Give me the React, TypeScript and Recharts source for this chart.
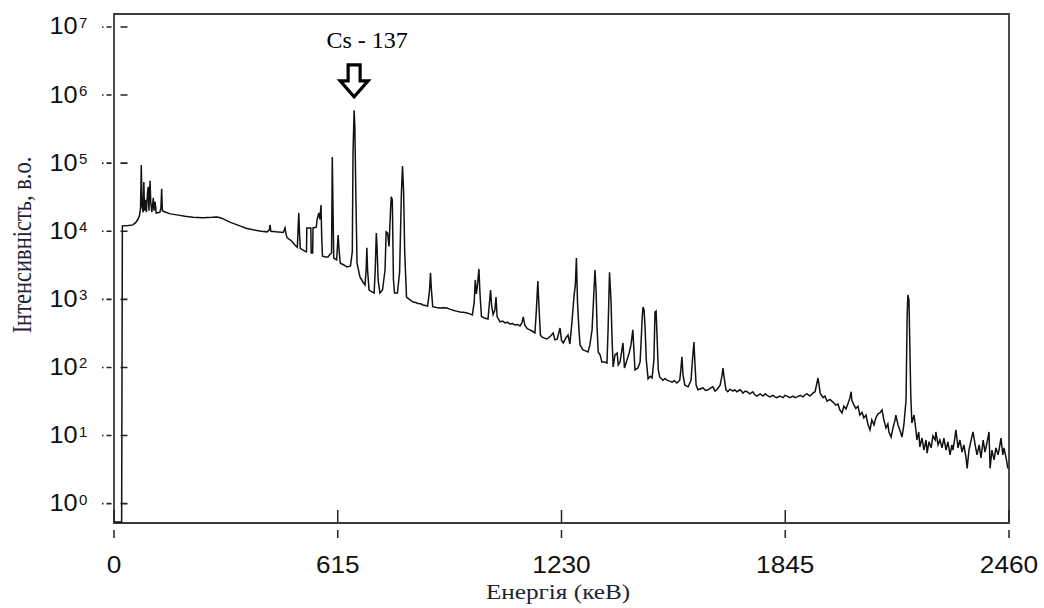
import React from 'react';
import { LineChart, Line, XAxis, YAxis, ReferenceArea, ReferenceDot } from 'recharts';

// spectrum: [energy keV, intensity]
const lowEnergy: [number, number][] = [
    [0, 0.54], [21, 0.54], [23, 1.2e4], [40, 1.22e4], [52, 1.24e4], [60, 1.35e4], [66, 1.5e4],
    [70, 1.7e4], [73, 2.2e4], [75, 9.4e4], [77, 2.4e4], [80, 1.9e4], [82, 5.3e4], [84, 2.0e4],
    [87, 2.9e4], [89, 1.9e4], [92, 3.6e4], [94, 4.5e4], [96, 2.0e4], [99, 5.5e4], [101, 2.7e4],
    [104, 1.9e4], [108, 3.1e4], [110, 2.0e4], [113, 2.7e4], [116, 1.85e4], [126, 1.9e4],
    [129, 2.2e4], [131, 4.2e4], [133, 2.0e4], [140, 1.92e4], [155, 1.8e4], [173, 1.74e4],
    [195, 1.66e4], [217, 1.6e4], [245, 1.58e4], [270, 1.6e4], [283, 1.62e4], [292, 1.58e4],
    [300, 1.52e4],
];

const csRegion: [number, number][] = [
    [320, 1.35e4], [346, 1.2e4], [365, 1.1e4], [382, 1.05e4], [405, 1.0e4], [421, 9.8e3],
    [427, 1.05e4], [429, 1.24e4], [431, 1.0e4], [445, 9.8e3], [465, 9.6e3], [468, 1.05e4],
    [470, 1.12e4], [473, 9.0e3], [476, 8.0e3], [484, 7.5e3], [490, 7.0e3], [497, 6.3e3],
    [504, 5.8e3], [506, 1.1e4], [508, 1.86e4], [510, 9.0e3], [512, 5.6e3], [520, 5.3e3],
    [527, 5.0e3], [529, 5.0e3], [530, 1.12e4], [541, 1.12e4], [542, 4.8e3], [546, 4.8e3],
    [547, 1.12e4], [556, 1.15e4], [558, 1.47e4], [563, 1.86e4], [566, 1.5e4], [569, 2.43e4],
    [571, 8.0e3], [573, 4.3e3], [582, 4.2e3], [588, 4.2e3], [594, 4.6e3], [598, 4.8e3],
    [600, 1.23e5], [602, 2.06e4], [604, 4.05e3], [612, 3.8e3], [616, 8.8e3], [619, 5.0e3],
    [622, 3.4e3], [632, 3.2e3], [640, 3.0e3], [650, 3.1e3], [655, 5.0e3], [657, 1.46e5],
    [660, 6.0e5], [662, 3.4e5], [665, 2.9e4], [668, 3.4e3], [676, 2.13e3], [684, 1.8e3],
    [690, 1.63e3], [693, 2.7e3], [695, 5.7e3], [697, 2.7e3], [701, 1.37e3],
];

const midEnergy: [number, number][] = [
    [708, 1.3e3], [715, 1.24e3], [718, 2.7e3], [721, 9.4e3], [723, 5.9e3], [726, 1.93e3],
    [731, 1.24e3], [738, 1.37e3], [745, 2.7e3], [748, 9.8e3], [752, 9.4e3], [756, 6.0e3],
    [759, 1.5e4], [762, 3.2e4], [765, 2.9e4], [768, 2.0e3], [771, 1.24e3], [779, 1.24e3],
    [785, 2.5e3], [790, 3.65e4], [793, 9.1e4], [796, 3.8e4], [799, 5.0e3], [804, 1.08e3],
    [812, 1.0e3], [822, 915], [829, 900], [836, 870], [843, 860], [849, 828], [856, 815],
    [862, 800], [867, 1.3e3], [870, 2.45e3], [872, 1.5e3], [876, 780], [886, 760], [896, 748],
    [905, 755], [915, 748], [923, 720], [932, 690], [941, 672], [951, 653], [960, 645],
    [970, 631], [978, 612], [985, 590], [990, 900], [993, 1.93e3], [996, 1.2e3], [999, 1.6e3],
    [1003, 2.8e3], [1006, 1.2e3], [1010, 560],
];

const upperMid: [number, number][] = [
    [1018, 533], [1028, 515], [1032, 900], [1035, 1.37e3], [1038, 800], [1042, 600], [1047, 700],
    [1050, 1.08e3], [1053, 560], [1061, 466], [1068, 480], [1075, 451], [1081, 462], [1088, 435],
    [1095, 440], [1102, 421], [1109, 428], [1116, 407], [1121, 450], [1125, 552], [1129, 420],
    [1136, 372], [1143, 356], [1150, 340], [1157, 321], [1161, 700], [1165, 1.86e3], [1168, 800],
    [1172, 300], [1176, 280], [1183, 270], [1190, 262], [1200, 290], [1207, 321], [1212, 254],
    [1218, 260], [1226, 380], [1230, 250], [1235, 229], [1242, 271], [1248, 300], [1253, 221],
    [1258, 421], [1262, 773], [1265, 1.2e3], [1268, 1.6e3], [1271, 4.05e3], [1274, 900],
    [1278, 356], [1281, 214], [1289, 181], [1296, 175], [1303, 169], [1308, 214], [1314, 356],
    [1318, 980], [1322, 2.7e3], [1325, 1.37e3], [1328, 356], [1331, 169], [1336, 153],
    [1341, 120], [1349, 120], [1355, 116], [1358, 356], [1362, 2.5e3], [1366, 980], [1369, 254],
    [1372, 102], [1377, 153], [1383, 163], [1386, 109], [1391, 120], [1396, 181], [1399, 229],
    [1403, 98], [1410, 129], [1416, 163], [1421, 214], [1426, 356], [1429, 181], [1432, 92],
    [1440, 98], [1446, 120], [1449, 254], [1452, 560], [1454, 773], [1457, 700], [1460, 356],
    [1463, 129], [1468, 68], [1474, 74], [1479, 70], [1484, 129], [1487, 653], [1490, 676],
    [1493, 254], [1496, 92], [1500, 72], [1509, 65], [1515, 69], [1520, 65], [1527, 63],
    [1534, 61], [1540, 64], [1547, 59], [1555, 65], [1558, 92], [1561, 143], [1564, 78],
    [1569, 55], [1578, 52], [1586, 65], [1590, 129], [1594, 237], [1597, 109], [1600, 55],
    [1605, 47],
];

const highEnergy: [number, number][] = [
    [1619, 50], [1626, 46], [1633, 47], [1640, 50], [1646, 52], [1652, 45], [1657, 47],
    [1666, 55], [1671, 75], [1674, 98], [1676, 78], [1682, 47], [1687, 44], [1693, 48],
    [1701, 45], [1706, 47], [1712, 44], [1721, 47], [1729, 42], [1735, 45], [1740, 44],
    [1748, 41], [1756, 44], [1761, 40], [1767, 38], [1776, 41], [1784, 38], [1790, 41],
    [1795, 39], [1803, 37], [1811, 39], [1817, 37], [1822, 36], [1830, 38], [1839, 36],
    [1844, 39], [1850, 38], [1858, 36], [1866, 38], [1872, 36], [1877, 37], [1886, 39],
    [1894, 37], [1900, 40], [1905, 41], [1913, 38], [1921, 42], [1927, 44], [1932, 59],
    [1935, 70], [1938, 55], [1941, 42], [1949, 36], [1954, 38], [1960, 32], [1968, 34],
    [1976, 31], [1984, 28], [1990, 29], [1995, 23.8], [2001, 21.5], [2006, 27], [2012, 24.6],
    [2017, 29], [2023, 36], [2026, 44], [2028, 33], [2034, 28], [2039, 25], [2045, 27],
    [2050, 20], [2056, 22], [2061, 18.2], [2067, 20], [2072, 14.8], [2078, 12.1], [2083, 17],
    [2089, 14.3], [2094, 18.2], [2100, 20.8], [2105, 21.5], [2111, 23.8], [2116, 17],
    [2122, 12.9], [2127, 14.8], [2130, 11.3], [2136, 9.5], [2141, 12.9], [2147, 17],
    [2149, 20], [2155, 14.3], [2160, 12.1], [2166, 9.5], [2171, 14.3], [2177, 33], [2180, 552],
    [2182, 1160], [2185, 980], [2188, 143], [2190, 39], [2193, 15.3], [2199, 20], [2204, 12.1],
    [2207, 8.6], [2212, 11.3], [2215, 6.8], [2221, 9.2], [2226, 6.1], [2232, 8.6], [2235, 5.5],
    [2240, 8.1], [2246, 6.6], [2251, 9.9], [2257, 8.6], [2259, 11.3], [2265, 7.3], [2270, 8.6],
    [2276, 6.6], [2281, 9.2], [2287, 6.1], [2292, 8.1], [2298, 5.2], [2303, 7.3], [2306, 6.1],
    [2311, 9.2], [2314, 12.1], [2320, 6.6], [2325, 8.6], [2331, 5.7], [2336, 7.3], [2342, 4.7],
    [2345, 3.3], [2350, 6.1], [2356, 8.6], [2361, 11.3], [2367, 7.3], [2372, 5.2], [2378, 7.3],
    [2383, 4.7], [2389, 8.6], [2394, 5.7], [2400, 8.1], [2405, 11.3], [2408, 3.3], [2413, 6.1],
    [2419, 4.4], [2424, 6.6], [2430, 5.2], [2435, 7.3], [2438, 9.2], [2443, 5.2], [2446, 6.6],
    [2452, 4.7], [2457, 3.3],
];

const xTicks = [0, 615, 1230, 1845, 2460];
const yTicks = [1, 10, 100, 1e3, 1e4, 1e5, 1e6, 1e7];
const yExponents = ['0', '1', '2', '3', '4', '5', '6', '7'];

const csLabel = 'Cs - 137';
const csEnergy = 660;
const csArrowTip = 8.8e5;

const spectrum = [...lowEnergy, ...csRegion, ...midEnergy, ...upperMid, ...highEnergy].map(([e, c]) => ({ e, c }));

const sans = '"Liberation Sans", Arial, sans-serif';
const serif = '"Liberation Serif", "Times New Roman", serif';

const XTick = (props: any) => {
    const { x, y, payload } = props;
    return (
        <g>
            <line x1={x} x2={x} y1={y - 13} y2={y + 15} stroke='#222' strokeWidth={1.5} strokeDasharray='12 8' />
            <text transform={`translate(${x},${y + 50}) scale(1.14,1)`} textAnchor='middle' fontFamily={sans} fontSize={23} fill='#111'>
                {payload.value}
            </text>
        </g>
    );
};

const YTick = (props: any) => {
    const { x, y, payload, index } = props;
    return (
        <g>
            <line x1={x - 12} x2={x + 14} y1={y} y2={y} stroke='#222' strokeWidth={1.6} strokeDasharray='1.5 3 5 9 7' />
            <text transform={`translate(${x - 36.5},${y + 7.5}) scale(1.1,1)`} textAnchor='end' fontFamily={sans} fontSize={23} fill='#111'>
                10
            </text>
            <text x={x - 35} y={y + 1} fontFamily={sans} fontSize={15} fill='#111'>
                {yExponents[index] ?? String(Math.round(Math.log10(payload.value)))}
            </text>
        </g>
    );
};

const CsMarker = (props: any) => {
    const { cx, cy } = props;
    const pts = [
        [cx - 6, cy - 34], [cx + 6, cy - 34], [cx + 6, cy - 18], [cx + 14, cy - 18],
        [cx, cy - 2], [cx - 14, cy - 18], [cx - 6, cy - 18],
    ].map(p => p.join(',')).join(' ');
    return (
        <g>
            <polygon points={pts} fill='#fff' stroke='#000' strokeWidth={3.2} />
            <text x={cx + 13} y={cy - 51} textAnchor='middle' fontFamily={serif} fontSize={24} fill='#000'>
                {csLabel}
            </text>
        </g>
    );
};

export default function App() {
    return (
        <div style={{ position: 'absolute', left: 0, top: 0, width: 1044, height: 608, background: '#fff' }}>
            <LineChart width={1044} height={608} data={spectrum} margin={{ top: 14, right: 35, bottom: 55, left: 54 }}>
                <XAxis
                    dataKey='e'
                    type='number'
                    domain={[0, 2460]}
                    ticks={xTicks}
                    interval={0}
                    allowDataOverflow
                    axisLine={false}
                    tickLine={false}
                    tickSize={0}
                    tickMargin={0}
                    height={30}
                    tick={<XTick />}
                />
                <YAxis
                    dataKey='c'
                    scale='log'
                    domain={[0.52, 1.55e7]}
                    ticks={yTicks}
                    interval={0}
                    allowDataOverflow
                    axisLine={false}
                    tickLine={false}
                    tickSize={0}
                    tickMargin={0}
                    width={60}
                    tick={<YTick />}
                />
                <ReferenceArea x1={0} x2={2460} y1={0.52} y2={1.55e7} fill='none' stroke='#3a3a3a' strokeWidth={1.8} ifOverflow='visible' />
                <Line
                    dataKey='c'
                    type='linear'
                    stroke='#111'
                    strokeWidth={1.5}
                    dot={false}
                    activeDot={false}
                    isAnimationActive={false}
                />
                <ReferenceDot x={csEnergy} y={csArrowTip} r={0} ifOverflow='visible' shape={(p: any) => <CsMarker {...p} />} />
            </LineChart>
            <svg width={1044} height={608} style={{ position: 'absolute', left: 0, top: 0, pointerEvents: 'none' }}>
                <text transform='translate(31,245) scale(1.2,1) rotate(-90)' textAnchor='middle' fontFamily={serif} fontSize={22.5} fill='#1c2433'>
                    Інтенсивність, в.о.
                </text>
                <text transform='translate(558,599) scale(1.2,1)' textAnchor='middle' fontFamily={serif} fontSize={21} fill='#1c2433'>
                    Енергія (кеВ)
                </text>
            </svg>
        </div>
    );
}
